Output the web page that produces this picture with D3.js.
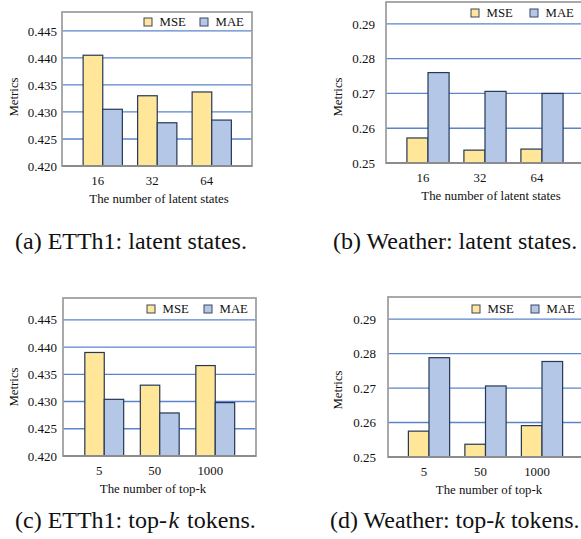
<!DOCTYPE html>
<html>
<head>
<title>Latent states / top-k</title>
<script src="https://d3js.org/d3.v7.min.js"></script>
<style>
body, html {
  margin: 0;
  padding: 0;
  background: #fff;
}
svg {
  display: block;
  font-family: "Liberation Serif", "Times New Roman", serif;
}
</style>
</head>
<body>
<svg id="chart" width="581" height="539"></svg>
<script>

// data
const seriesNames = ["MSE", "MAE"];
const latentStates = ["16", "32", "64"];
const topK = ["5", "50", "1000"];

const ettLatentMSE = [0.4405, 0.4330, 0.4337];
const ettLatentMAE = [0.4305, 0.4280, 0.4285];
const weatherLatentMSE = [0.2572, 0.2537, 0.2540];
const weatherLatentMAE = [0.2760, 0.2706, 0.2700];

const ettTopkMSE = [0.4390, 0.4330, 0.4366];
const ettTopkMAE = [0.4304, 0.4279, 0.4298];
const weatherTopkMSE = [0.2575, 0.2537, 0.2591];
const weatherTopkMAE = [0.2788, 0.2706, 0.2777];

const ettTicks = [0.420, 0.425, 0.430, 0.435, 0.440, 0.445];
const weatherTicks = [0.25, 0.26, 0.27, 0.28, 0.29];

const colors = { MSE: "#ffe699", MAE: "#b4c7e7" };

const svg = d3.select("#chart");

function drawPanel(p) {
  const g = svg.append("g");

  const y = d3.scaleLinear().domain(p.yDomain).range([p.bottom, p.top]);
  const x = d3.scaleBand().domain(p.cats).range(p.xRange)
              .paddingInner(p.pad).paddingOuter(p.pad / 2);
  const half = x.bandwidth() / 2;

  // gridlines
  g.selectAll(".grid")
    .data(p.ticks.filter(t => t > p.yDomain[0] + 1e-9))
    .join("line")
      .attr("x1", p.left).attr("x2", p.right)
      .attr("y1", d => y(d)).attr("y2", d => y(d))
      .attr("stroke", "#5b84cc")
      .attr("stroke-width", 1.3);

  // frame
  g.append("rect")
    .attr("x", p.left).attr("y", p.top)
    .attr("width", p.right - p.left).attr("height", p.bottom - p.top)
    .attr("fill", "none")
    .attr("stroke", "#a0a0a0")
    .attr("stroke-width", 1.8);

  // bars
  const rows = [];
  p.cats.forEach((c, i) => {
    rows.push({ cat: c, s: "MSE", v: p.mse[i], k: 0 });
    rows.push({ cat: c, s: "MAE", v: p.mae[i], k: 1 });
  });
  g.selectAll(".bar")
    .data(rows)
    .join("rect")
      .attr("x", d => x(d.cat) + d.k * half)
      .attr("y", d => y(d.v))
      .attr("width", half)
      .attr("height", d => y(p.yDomain[0]) - y(d.v))
      .attr("fill", d => colors[d.s])
      .attr("stroke", "#253858")
      .attr("stroke-width", 1.2);

  // bottom frame line darker
  g.append("line")
    .attr("x1", p.left).attr("x2", p.right)
    .attr("y1", p.bottom).attr("y2", p.bottom)
    .attr("stroke", "#8c8c8c")
    .attr("stroke-width", 1.8);

  // y axis labels
  const yAxis = d3.axisLeft(y).tickValues(p.ticks).tickFormat(d3.format(p.fmt))
                  .tickSize(0).tickPadding(p.yPad);
  const ya = g.append("g")
    .attr("transform", "translate(" + p.left + ",0)")
    .call(yAxis);
  ya.select(".domain").remove();
  ya.selectAll("text")
    .style("font-family", "Liberation Serif")
    .style("font-size", "13px")
    .attr("fill", "#111");

  // x axis labels
  const xAxis = d3.axisBottom(x).tickSize(0).tickPadding(0);
  const xa = g.append("g")
    .attr("transform", "translate(-5," + p.bottom + ")")
    .call(xAxis);
  xa.select(".domain").remove();
  xa.selectAll("text")
    .attr("dy", null)
    .attr("y", 19)
    .style("font-family", "Liberation Serif")
    .style("font-size", "12.8px")
    .attr("fill", "#111");

  g.append("text")
    .attr("x", p.titleX).attr("y", p.bottom + 37)
    .attr("text-anchor", "middle")
    .style("font-family", "Liberation Serif")
    .style("font-size", "12.8px")
    .attr("fill", "#111")
    .text(p.xTitle);

  g.append("text")
    .attr("transform", "translate(" + p.metricsX + "," + p.metricsY + ") rotate(-90)")
    .attr("text-anchor", "middle")
    .attr("dy", "0.35em")
    .style("font-family", "Liberation Serif")
    .style("font-size", "12.8px")
    .attr("fill", "#111")
    .text("Metrics");

  // legend
  const leg = g.selectAll(".leg")
    .data(seriesNames)
    .join("g")
      .attr("transform", (d, i) => "translate(" + p.legX[i] + "," + p.legY + ")");
  leg.append("rect")
    .attr("width", 8).attr("height", 8)
    .attr("fill", d => colors[d])
    .attr("stroke", "#3a4660")
    .attr("stroke-width", 1);
  leg.append("text")
    .attr("x", 15.5).attr("y", 8)
    .style("font-family", "Liberation Serif")
    .style("font-size", "12.8px")
    .attr("fill", "#111")
    .text(d => d);

  // caption
  const cap = svg.append("text")
    .attr("x", p.capX).attr("y", p.capY)
    .style("font-family", "Liberation Serif")
    .style("font-size", "24px")
    .attr("fill", "#111");
  p.caption.forEach(part => {
    cap.append("tspan")
      .attr("dx", part.dx || 0)
      .style("font-style", part.italic ? "italic" : "normal")
      .text(part.t);
  });
}

drawPanel({
  cats: latentStates, mse: ettLatentMSE, mae: ettLatentMAE,
  yDomain: [0.420, 0.4485], ticks: ettTicks, fmt: ".3f",
  left: 62, right: 252, top: 12, bottom: 166,
  xRange: [75.5, 239], pad: 0.28, yPad: 5,
  xTitle: "The number of latent states", titleX: 159,
  metricsX: 14, metricsY: 97,
  legX: [144, 200], legY: 18,
  caption: [{ t: "(a) ETTh1: latent states." }], capX: 15, capY: 249
});

drawPanel({
  cats: latentStates, mse: weatherLatentMSE, mae: weatherLatentMAE,
  yDomain: [0.25, 0.2963], ticks: weatherTicks, fmt: ".2f",
  left: 386, right: 584, top: 2, bottom: 163,
  xRange: [399.5, 570.5], pad: 0.26, yPad: 11,
  xTitle: "The number of latent states", titleX: 491,
  metricsX: 338, metricsY: 97,
  legX: [471, 530], legY: 9,
  caption: [{ t: "(b) Weather: latent states." }], capX: 333, capY: 249
});

drawPanel({
  cats: topK, mse: ettTopkMSE, mae: ettTopkMAE,
  yDomain: [0.420, 0.449], ticks: ettTicks, fmt: ".3f",
  left: 63, right: 256, top: 298, bottom: 456,
  xRange: [76.5, 243], pad: 0.3, yPad: 6,
  xTitle: "The number of top-k", titleX: 153,
  metricsX: 14, metricsY: 387,
  legX: [147, 204], legY: 305,
  caption: [{ t: "(c) ETTh1: top-" }, { t: "k", italic: true, dx: 1.5 }, { t: " tokens.", dx: 2 }], capX: 15, capY: 528
});

drawPanel({
  cats: topK, mse: weatherTopkMSE, mae: weatherTopkMAE,
  yDomain: [0.25, 0.2964], ticks: weatherTicks, fmt: ".2f",
  left: 388, right: 584, top: 297, bottom: 457,
  xRange: [400.75, 570.25], pad: 0.27, yPad: 12,
  xTitle: "The number of top-k", titleX: 489,
  metricsX: 338, metricsY: 390,
  legX: [472, 531], legY: 305,
  caption: [{ t: "(d) Weather: top-" }, { t: "k", italic: true }, { t: " tokens." }], capX: 330, capY: 528
});

</script>
</body>
</html>
